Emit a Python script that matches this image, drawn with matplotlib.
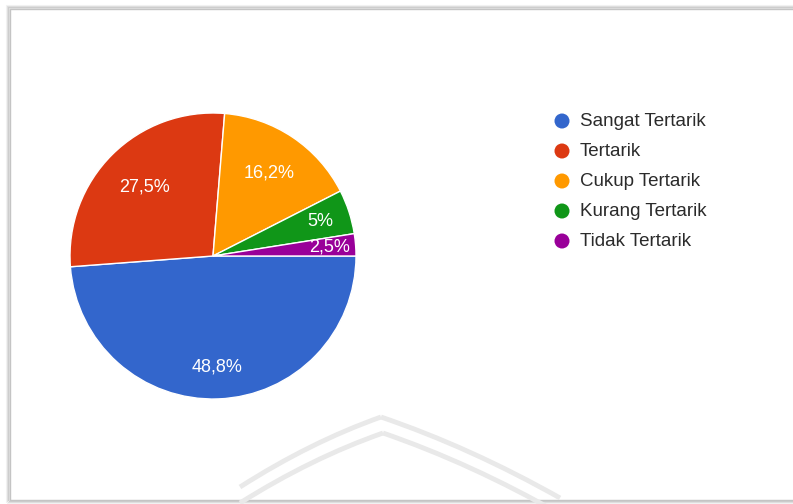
import matplotlib
matplotlib.use("Agg")
import matplotlib.pyplot as plt
import numpy as np
from matplotlib.patches import Circle, Rectangle, PathPatch
from matplotlib.path import Path
from matplotlib.transforms import IdentityTransform

# Survey response shares (percent)
categories = ["Sangat Tertarik", "Tertarik", "Cukup Tertarik", "Kurang Tertarik", "Tidak Tertarik"]
values = [48.8, 27.5, 16.2, 5.0, 2.5]
colors = ["#3366cc", "#dc3912", "#ff9900", "#109618", "#990099"]

# radial position of each percentage label (fraction of the radius)
label_radius = [0.78, 0.68, 0.70, 0.79, 0.82]

W, H = 793, 504
fig = plt.figure(figsize=(W / 100, H / 100), dpi=100)
fig.patch.set_facecolor("white")
FONT = "Liberation Sans"


def px(x, y):
    """Top-left pixel coordinates -> display coordinates."""
    return x, H - y


ident = IdentityTransform()

# card frame with soft shadow (kept behind the chart)
for i, a in enumerate([0.05, 0.08, 0.12]):
    off = 3 - i
    fig.add_artist(Rectangle(px(10 - off, 500 + off), W, 491 + 2 * off,
                             transform=ident, facecolor="none",
                             edgecolor=(0, 0, 0, a), linewidth=1.5, zorder=-3))
fig.add_artist(Rectangle(px(10, 500), W, 491, transform=ident,
                         facecolor="none", edgecolor="#c4c4c4", linewidth=1.0,
                         zorder=-2))

# faint arch watermark
def arch(apex, left, right, bulge):
    for end in (left, right):
        mx, my = (apex[0] + end[0]) / 2, (apex[1] + end[1]) / 2
        ctrl = (mx, my - 2 * bulge)
        verts = [px(*end), px(*ctrl), px(*apex)]
        p = Path(verts, [Path.MOVETO, Path.CURVE3, Path.CURVE3])
        fig.add_artist(PathPatch(p, transform=ident, facecolor="none",
                                 edgecolor="#e9e9e9", linewidth=3.5,
                                 capstyle="butt", zorder=-1))

arch((381, 417), (240, 487), (560, 498), 5)
arch((383, 433), (240, 503), (560, 514), 5)

# pie chart
cx, cy, r = 213, 256, 143
ax = fig.add_axes([(cx - r) / W, (H - cy - r) / H, 2 * r / W, 2 * r / H])
ax.set_zorder(2)
ax.patch.set_visible(False)
wedges, _ = ax.pie(values, colors=colors, startangle=0, counterclock=False,
                   radius=1.0,
                   wedgeprops=dict(edgecolor="white", linewidth=1.0))
ax.set_xlim(-1, 1)
ax.set_ylim(-1, 1)
ax.set_aspect("equal")
ax.axis("off")

for w, v, lr in zip(wedges, values, label_radius):
    mid = np.deg2rad((w.theta1 + w.theta2) / 2)
    txt = f"{v:g}".replace(".", ",") + "%"
    ax.text(lr * np.cos(mid), lr * np.sin(mid), txt, color="white",
            fontsize=13, family=FONT, ha="center", va="center")

# legend
for i, (name, c) in enumerate(zip(categories, colors)):
    y = 121 + 30 * i
    fig.add_artist(Circle(px(562, y), 7.5, transform=ident,
                          facecolor=c, edgecolor="none"))
    x0, y0 = px(580, y)
    fig.text(x0 / W, y0 / H, name, color="#2b2b2b", fontsize=13.5,
             family=FONT, ha="left", va="center")

fig.savefig("out.png", dpi=100)
